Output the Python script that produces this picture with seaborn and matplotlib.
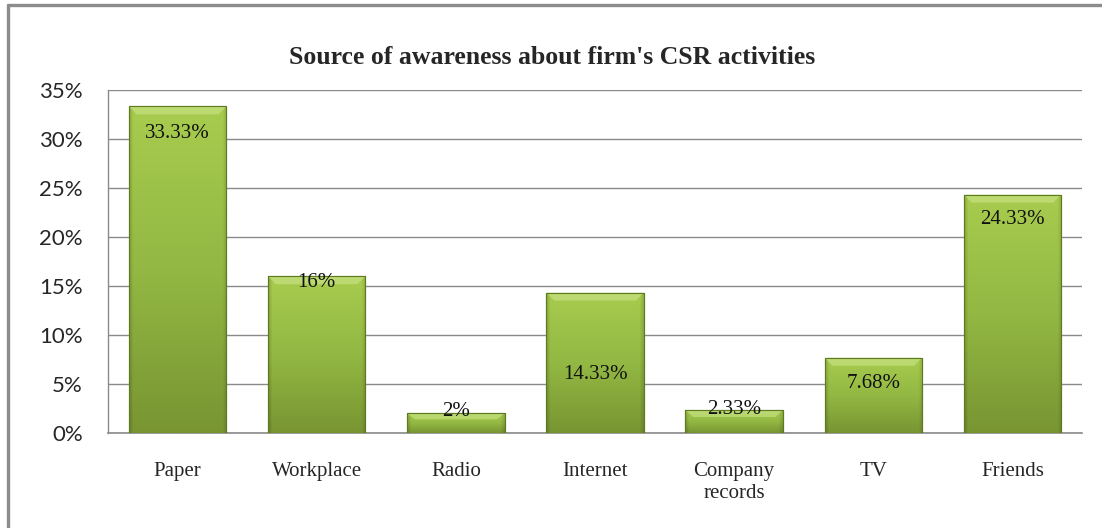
import numpy as np
import pandas as pd
import matplotlib
matplotlib.use("Agg")
import matplotlib.pyplot as plt
import seaborn as sns
from matplotlib.colors import LinearSegmentedColormap
from matplotlib.lines import Line2D

# ---- data ----
categories = ["Paper", "Workplace", "Radio", "Internet", "Company\nrecords", "TV", "Friends"]
values = [33.33, 16, 2, 14.33, 2.33, 7.68, 24.33]
value_labels = ["33.33%", "16%", "2%", "14.33%", "2.33%", "7.68%", "24.33%"]
y_ticks = [0, 5, 10, 15, 20, 25, 30, 35]
y_tick_labels = ["0%", "5%", "10%", "15%", "20%", "25%", "30%", "35%"]
title = "Source of awareness about firm's CSR activities"

# label placement (pixels from bar top; style, not data)
label_offsets_px = [-27, -6, 2, -82, 1, -26, -25]

df = pd.DataFrame({"category": categories, "value": values})

sns.set_theme(style="white")
plt.rcParams["font.family"] = ["Liberation Serif", "DejaVu Serif"]

W, H = 1102, 528
fig = plt.figure(figsize=(W / 100, H / 100), dpi=100)
ax = fig.add_axes([108 / W, 1 - 433 / H, (1082 - 108) / W, (433 - 90) / H])

sns.barplot(data=df, x="category", y="value", ax=ax, width=0.70,
            color="#94b840", edgecolor="#5d7a1f", linewidth=0.8, zorder=3)

ax.set_ylim(0, 35)
ax.set_xlim(-0.5, len(categories) - 0.5)
ax.set_yticks(y_ticks)
ax.set_yticklabels(y_tick_labels, fontfamily="Lato", fontsize=16)
ax.tick_params(axis="y", length=0, pad=18)
ax.tick_params(axis="x", length=0, pad=21, labelsize=15)
ax.set_xlabel("")
ax.set_ylabel("")
ax.yaxis.grid(True, color="#8a8a8a", linewidth=1.0, zorder=0)
ax.set_axisbelow(True)
for s in ["top", "right"]:
    ax.spines[s].set_visible(False)
ax.spines["left"].set_color("#8a8a8a")
ax.spines["bottom"].set_color("#8a8a8a")
ax.spines["left"].set_linewidth(1.0)
ax.spines["bottom"].set_linewidth(1.2)

# gradient fill for each bar (vertical) with darker sides and bevel top
cmap = LinearSegmentedColormap.from_list("g", ["#789532", "#93b843", "#a8cc4e"])
grad = np.linspace(0, 1, 256).reshape(-1, 1)
side = np.concatenate([np.linspace(0.82, 1, 12), np.ones(232), np.linspace(1, 0.86, 12)])
px_per_unit = (433 - 90) / 35.0
for patch in ax.patches:
    x0, y0 = patch.get_x(), patch.get_y()
    w, h = patch.get_width(), patch.get_height()
    rgb = cmap(grad)[:, :, :3] * np.ones((256, 256, 1))
    rgb = rgb * side[None, :, None]
    im = ax.imshow(rgb, aspect="auto", origin="lower",
                   extent=[x0, x0 + w, y0, y0 + h], zorder=3.5)
    im.set_clip_path(patch)
    bev = min(8 / px_per_unit, h * 0.3)
    dx = w * 0.08
    ax.fill([x0, x0 + w, x0 + w - dx, x0 + dx],
            [y0 + h, y0 + h, y0 + h - bev, y0 + h - bev],
            color="#cbe58a", alpha=0.6, zorder=3.6, linewidth=0)
    ax.add_patch(plt.Rectangle((x0, y0), w, h, fill=False,
                               edgecolor="#5d7a1f", linewidth=0.8, zorder=3.7))
ax.set_xlim(-0.5, len(categories) - 0.5)
ax.set_ylim(0, 35)

# data labels
for i, (v, lab, off) in enumerate(zip(values, value_labels, label_offsets_px)):
    ax.annotate(lab, (i, v), xytext=(0, off * 0.72), textcoords="offset points",
                ha="center", va="center", fontsize=15, color="#111111", zorder=5)

fig.text(552 / W, 1 - 58 / H, title, ha="center", va="center",
         fontsize=18.5, fontweight="bold")

# outer frame (left and top edges)
fig.add_artist(Line2D([8 / W, 8 / W], [0, 1 - 5 / H], transform=fig.transFigure,
                      color="#8c8c8c", linewidth=2.4))
fig.add_artist(Line2D([8 / W, 1], [1 - 5 / H, 1 - 5 / H], transform=fig.transFigure,
                      color="#8c8c8c", linewidth=2.4))

fig.savefig("out.png", dpi=100, facecolor="white")
